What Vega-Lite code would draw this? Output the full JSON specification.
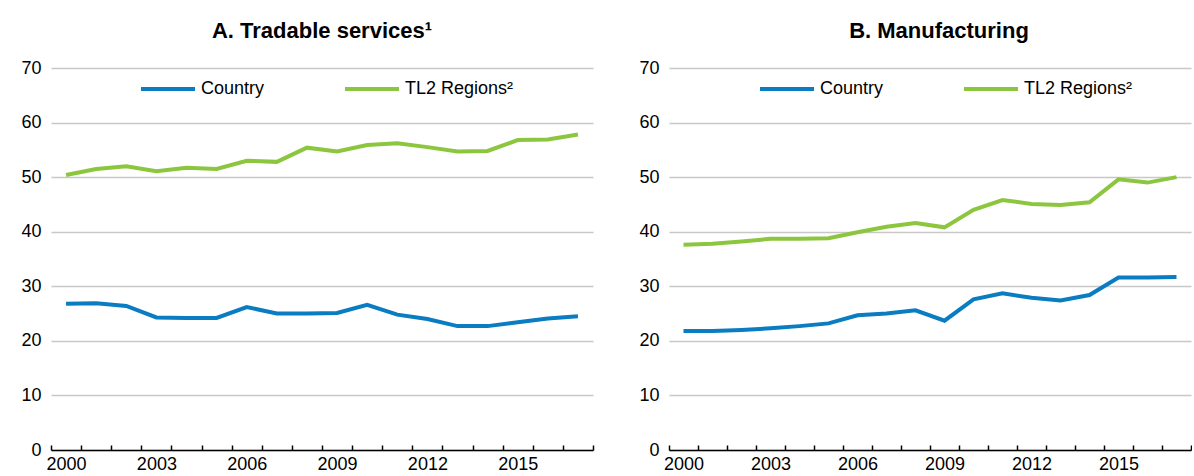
{
  "$schema": "https://vega.github.io/schema/vega-lite/v6.json",
  "padding": {"left": 20, "top": 20, "right": 0, "bottom": 0},
  "datasets": {
    "d": [
      {"panel": "A", "year": 2000, "series": "Country", "value": 26.8},
      {"panel": "A", "year": 2001, "series": "Country", "value": 26.9},
      {"panel": "A", "year": 2002, "series": "Country", "value": 26.4},
      {"panel": "A", "year": 2003, "series": "Country", "value": 24.3},
      {"panel": "A", "year": 2004, "series": "Country", "value": 24.2},
      {"panel": "A", "year": 2005, "series": "Country", "value": 24.2},
      {"panel": "A", "year": 2006, "series": "Country", "value": 26.2},
      {"panel": "A", "year": 2007, "series": "Country", "value": 25.0},
      {"panel": "A", "year": 2008, "series": "Country", "value": 25.0},
      {"panel": "A", "year": 2009, "series": "Country", "value": 25.1},
      {"panel": "A", "year": 2010, "series": "Country", "value": 26.6},
      {"panel": "A", "year": 2011, "series": "Country", "value": 24.8},
      {"panel": "A", "year": 2012, "series": "Country", "value": 24.0},
      {"panel": "A", "year": 2013, "series": "Country", "value": 22.7},
      {"panel": "A", "year": 2014, "series": "Country", "value": 22.7},
      {"panel": "A", "year": 2015, "series": "Country", "value": 23.4},
      {"panel": "A", "year": 2016, "series": "Country", "value": 24.1},
      {"panel": "A", "year": 2017, "series": "Country", "value": 24.5},
      {"panel": "A", "year": 2000, "series": "TL2 Regions²", "value": 50.4},
      {"panel": "A", "year": 2001, "series": "TL2 Regions²", "value": 51.5},
      {"panel": "A", "year": 2002, "series": "TL2 Regions²", "value": 52.0},
      {"panel": "A", "year": 2003, "series": "TL2 Regions²", "value": 51.1},
      {"panel": "A", "year": 2004, "series": "TL2 Regions²", "value": 51.7},
      {"panel": "A", "year": 2005, "series": "TL2 Regions²", "value": 51.5},
      {"panel": "A", "year": 2006, "series": "TL2 Regions²", "value": 53.0},
      {"panel": "A", "year": 2007, "series": "TL2 Regions²", "value": 52.8},
      {"panel": "A", "year": 2008, "series": "TL2 Regions²", "value": 55.4},
      {"panel": "A", "year": 2009, "series": "TL2 Regions²", "value": 54.7},
      {"panel": "A", "year": 2010, "series": "TL2 Regions²", "value": 55.9},
      {"panel": "A", "year": 2011, "series": "TL2 Regions²", "value": 56.2},
      {"panel": "A", "year": 2012, "series": "TL2 Regions²", "value": 55.5},
      {"panel": "A", "year": 2013, "series": "TL2 Regions²", "value": 54.7},
      {"panel": "A", "year": 2014, "series": "TL2 Regions²", "value": 54.8},
      {"panel": "A", "year": 2015, "series": "TL2 Regions²", "value": 56.8},
      {"panel": "A", "year": 2016, "series": "TL2 Regions²", "value": 56.9},
      {"panel": "A", "year": 2017, "series": "TL2 Regions²", "value": 57.8},
      {"panel": "B", "year": 2000, "series": "Country", "value": 21.8},
      {"panel": "B", "year": 2001, "series": "Country", "value": 21.8},
      {"panel": "B", "year": 2002, "series": "Country", "value": 22.0},
      {"panel": "B", "year": 2003, "series": "Country", "value": 22.3},
      {"panel": "B", "year": 2004, "series": "Country", "value": 22.7},
      {"panel": "B", "year": 2005, "series": "Country", "value": 23.2},
      {"panel": "B", "year": 2006, "series": "Country", "value": 24.7},
      {"panel": "B", "year": 2007, "series": "Country", "value": 25.0},
      {"panel": "B", "year": 2008, "series": "Country", "value": 25.6},
      {"panel": "B", "year": 2009, "series": "Country", "value": 23.7},
      {"panel": "B", "year": 2010, "series": "Country", "value": 27.6},
      {"panel": "B", "year": 2011, "series": "Country", "value": 28.7},
      {"panel": "B", "year": 2012, "series": "Country", "value": 27.9},
      {"panel": "B", "year": 2013, "series": "Country", "value": 27.4},
      {"panel": "B", "year": 2014, "series": "Country", "value": 28.4},
      {"panel": "B", "year": 2015, "series": "Country", "value": 31.6},
      {"panel": "B", "year": 2016, "series": "Country", "value": 31.6},
      {"panel": "B", "year": 2017, "series": "Country", "value": 31.7},
      {"panel": "B", "year": 2000, "series": "TL2 Regions²", "value": 37.6},
      {"panel": "B", "year": 2001, "series": "TL2 Regions²", "value": 37.8},
      {"panel": "B", "year": 2002, "series": "TL2 Regions²", "value": 38.2},
      {"panel": "B", "year": 2003, "series": "TL2 Regions²", "value": 38.7},
      {"panel": "B", "year": 2004, "series": "TL2 Regions²", "value": 38.7},
      {"panel": "B", "year": 2005, "series": "TL2 Regions²", "value": 38.8},
      {"panel": "B", "year": 2006, "series": "TL2 Regions²", "value": 39.9},
      {"panel": "B", "year": 2007, "series": "TL2 Regions²", "value": 40.9},
      {"panel": "B", "year": 2008, "series": "TL2 Regions²", "value": 41.6},
      {"panel": "B", "year": 2009, "series": "TL2 Regions²", "value": 40.8},
      {"panel": "B", "year": 2010, "series": "TL2 Regions²", "value": 44.0},
      {"panel": "B", "year": 2011, "series": "TL2 Regions²", "value": 45.8},
      {"panel": "B", "year": 2012, "series": "TL2 Regions²", "value": 45.1},
      {"panel": "B", "year": 2013, "series": "TL2 Regions²", "value": 44.9},
      {"panel": "B", "year": 2014, "series": "TL2 Regions²", "value": 45.4},
      {"panel": "B", "year": 2015, "series": "TL2 Regions²", "value": 49.6},
      {"panel": "B", "year": 2016, "series": "TL2 Regions²", "value": 49.0},
      {"panel": "B", "year": 2017, "series": "TL2 Regions²", "value": 50.0}
    ]
  },
  "config": {
    "font": "Liberation Sans, Arial, sans-serif",
    "view": {"stroke": null},
    "concat": {"spacing": 44},
    "title": {"fontSize": 22, "fontWeight": "bold", "color": "#000000", "anchor": "middle", "frame": "group", "offset": 16},
    "axis": {"labelFontSize": 18, "labelColor": "#000000", "title": null},
    "axisY": {"domain": false, "ticks": false, "grid": true, "gridColor": "#c8c8c8", "gridWidth": 1.5, "labelPadding": 10},
    "axisX": {"domain": true, "domainColor": "#000000", "domainWidth": 1.5, "ticks": true, "tickColor": "#000000", "tickWidth": 1.5, "tickSize": -5, "tickBand": "extent", "grid": false, "labelAngle": 0, "labelPadding": 10, "labelExpr": "datum.value % 3 == 2 ? datum.label : ''"},
    "legend": {"orient": "none", "direction": "horizontal", "title": null, "symbolType": "stroke", "symbolSize": 2916, "symbolStrokeWidth": 4, "labelFontSize": 18, "labelColor": "#000000", "labelOffset": 4, "columnPadding": 72, "padding": 0, "legendY": -8}
  },
  "resolve": {"legend": {"color": "independent"}},
  "hconcat": [
    {
      "title": {"text": "A. Tradable services¹"},
      "width": 542,
      "height": 382,
      "data": {"name": "d"},
      "transform": [{"filter": "datum.panel == 'A'"}],
      "mark": {"type": "line", "strokeWidth": 4},
      "encoding": {
        "x": {"field": "year", "type": "ordinal", "scale": {"type": "band", "paddingInner": 0, "paddingOuter": 0}},
        "y": {"field": "value", "type": "quantitative", "scale": {"domain": [0, 70], "nice": false}, "axis": {"values": [0, 10, 20, 30, 40, 50, 60, 70]}},
        "color": {"field": "series", "type": "nominal", "scale": {"domain": ["Country", "TL2 Regions²"], "range": ["#0A7CC1", "#8CC63F"]}, "legend": {"legendX": 88}}
      }
    },
    {
      "title": {"text": "B. Manufacturing", "dx": 9},
      "width": 522,
      "height": 382,
      "data": {"name": "d"},
      "transform": [{"filter": "datum.panel == 'B'"}],
      "mark": {"type": "line", "strokeWidth": 4},
      "encoding": {
        "x": {"field": "year", "type": "ordinal", "scale": {"type": "band", "paddingInner": 0, "paddingOuter": 0}},
        "y": {"field": "value", "type": "quantitative", "scale": {"domain": [0, 70], "nice": false}, "axis": {"values": [0, 10, 20, 30, 40, 50, 60, 70]}},
        "color": {"field": "series", "type": "nominal", "scale": {"domain": ["Country", "TL2 Regions²"], "range": ["#0A7CC1", "#8CC63F"]}, "legend": {"legendX": 89}}
      }
    }
  ]
}
